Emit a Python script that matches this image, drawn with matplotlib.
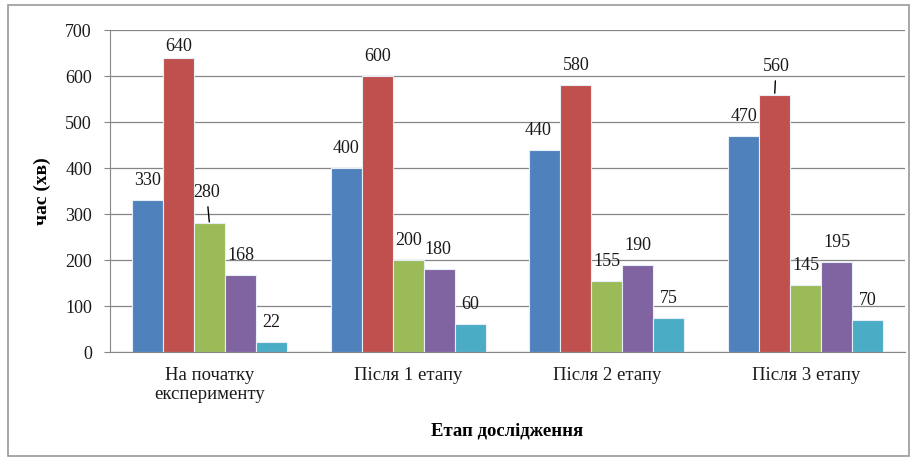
import matplotlib.pyplot as plt
from matplotlib.patches import Rectangle

categories = ["На початку\nексперименту", "Після 1 етапу", "Після 2 етапу", "Після 3 етапу"]
series = [
    [330, 400, 440, 470],
    [640, 600, 580, 560],
    [280, 200, 155, 145],
    [168, 180, 190, 195],
    [22, 60, 75, 70],
]
colors = ["#4F81BD", "#C0504D", "#9BBB59", "#8064A2", "#4BACC6"]
yticks = [0, 100, 200, 300, 400, 500, 600, 700]

# label offsets in points (dx, dy); a few are moved like in the original
default_off = (0, 14)
special_off = {
    (0, 1): (0, 8),
    (0, 2): (-2, 22),
    (1, 3): (-1, 14),
    (2, 0): (-5, 14),
    (3, 1): (1, 20),
}
leaders = {(0, 2), (3, 1)}

plt.rcParams["font.family"] = ["Liberation Serif", "DejaVu Serif"]

fig = plt.figure(figsize=(9.17, 4.65), dpi=100)
ax = fig.add_axes([0.12, 0.243, 0.867, 0.692])

step = 0.156
width = 0.156
for s, vals in enumerate(series):
    xs = [i + (s - 2) * step for i in range(len(categories))]
    ax.bar(xs, vals, width=width, color=colors[s], edgecolor="#E8EEF6",
           linewidth=0.8, zorder=3)
    for i, v in enumerate(vals):
        dx, dy = special_off.get((i, s), default_off)
        if (i, s) in leaders:
            ax.annotate(str(v), xy=(xs[i], v), xytext=(dx, dy),
                        textcoords="offset points", ha="center", va="center",
                        fontsize=13, color="#1a1a1a", zorder=4,
                        arrowprops=dict(arrowstyle="-", color="black", lw=1,
                                        shrinkA=2, shrinkB=1))
        else:
            ax.annotate(str(v), xy=(xs[i], v), xytext=(dx, dy),
                        textcoords="offset points", ha="center", va="center",
                        fontsize=13, color="#1a1a1a", zorder=4)

ax.set_xlim(-0.5, len(categories) - 0.5)
ax.set_ylim(0, 700)
ax.set_yticks(yticks)
ax.set_xticks(range(len(categories)))
ax.set_xticklabels(categories, fontsize=13.5, color="#1a1a1a", linespacing=1.1)
ax.tick_params(axis="x", length=0, pad=11)
ax.tick_params(axis="y", length=4, color="#868686", labelsize=13,
               labelcolor="#1a1a1a", pad=9)
ax.grid(axis="y", color="#868686", linewidth=0.9, zorder=0)
for side in ["top", "right"]:
    ax.spines[side].set_visible(False)
ax.spines["left"].set_color("#868686")
ax.spines["bottom"].set_color("#868686")
ax.spines["bottom"].set_zorder(5)

ax.set_xlabel("Етап дослідження", fontsize=13.5, fontweight="bold", labelpad=14)
ax.set_ylabel("час (хв)", fontsize=14, fontweight="bold", labelpad=10)

fig.patches.append(Rectangle((0.009, 0.02), 0.982, 0.97, transform=fig.transFigure,
                             fill=False, edgecolor="#9a9a9a", linewidth=1.2))

fig.savefig("out.png", dpi=100)
